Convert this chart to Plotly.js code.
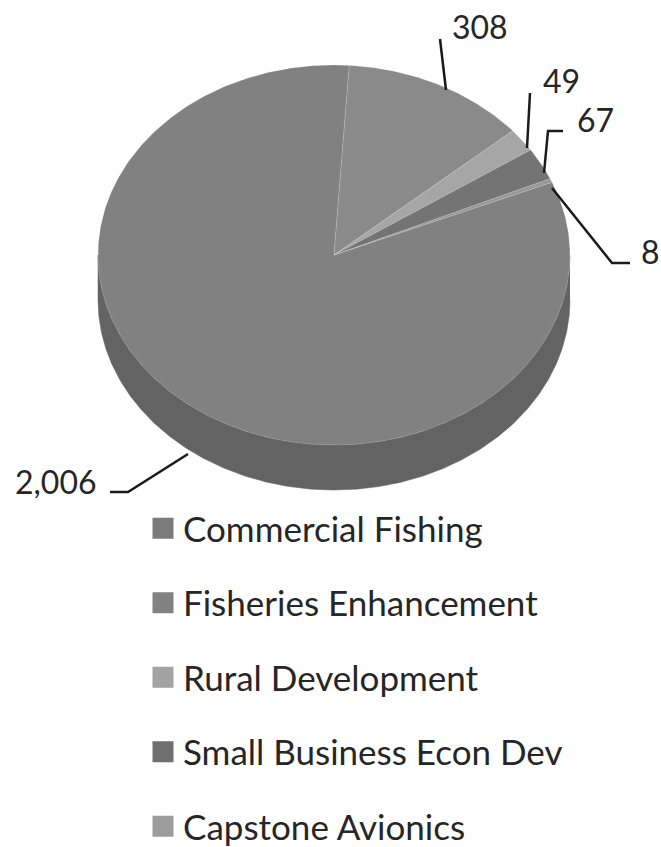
<!DOCTYPE html>
<html>
<head>
<meta charset="utf-8">
<script src="https://cdn.plot.ly/plotly-3.0.1.min.js"></script>
<style>html,body{margin:0;padding:0;background:#fff;}#chart{width:661px;height:847px;}</style>
</head>
<body>
<div id="chart"></div>
<script>
// ---- data ----
const categories = ['Commercial Fishing', 'Fisheries Enhancement', 'Rural Development', 'Small Business Econ Dev', 'Capstone Avionics'];
const values = [2006, 308, 49, 67, 8];
const valueLabels = values.map(v => v.toLocaleString('en-US'));

// ---- style ----
const topColors = ['#818181', '#8a8a8a', '#a6a6a6', '#747474', '#979797'];
const legendColors = ['#7b7b7b', '#828282', '#a3a3a3', '#6f6f6f', '#9c9c9c'];
const sideColor = '#636363';
const W = 661, H = 847;
const cx = 334, cy = 255, rx = 236, ry = 190, depth = 45;
const firstSliceAngle = 67.5; // degrees clockwise from 12 o'clock

function pt(a, dy) {
  const r = a * Math.PI / 180;
  return [cx + rx * Math.sin(r), cy - ry * Math.cos(r) + (dy || 0)];
}
function arc(a0, a1, dy) {
  const n = Math.max(2, Math.ceil(Math.abs(a1 - a0) / 0.5));
  const xs = [], ys = [];
  for (let i = 0; i <= n; i++) {
    const p = pt(a0 + (a1 - a0) * i / n, dy);
    xs.push(p[0]); ys.push(p[1]);
  }
  return [xs, ys];
}

const total = values.reduce((a, b) => a + b, 0);
const slices = [];
let acc = firstSliceAngle;
values.forEach((v, i) => {
  const span = v / total * 360;
  slices.push({a0: acc, a1: acc + span, i});
  acc += span;
});

const traces = [];
// side walls (front half only)
slices.forEach(s => {
  [[90, 270], [450, 630]].forEach(([f0, f1]) => {
    const lo = Math.max(s.a0, f0), hi = Math.min(s.a1, f1);
    if (lo < hi) {
      const top = arc(lo, hi, 0), bot = arc(hi, lo, depth);
      traces.push({
        type: 'scatter', mode: 'lines', fill: 'toself',
        x: top[0].concat(bot[0]), y: top[1].concat(bot[1]),
        fillcolor: sideColor, line: {color: sideColor, width: 0.5},
        showlegend: false, hoverinfo: 'skip'
      });
    }
  });
});
// top faces
slices.forEach(s => {
  const a = arc(s.a0, s.a1, 0);
  traces.push({
    type: 'scatter', mode: 'lines', fill: 'toself',
    x: [cx].concat(a[0], [cx]), y: [cy].concat(a[1], [cy]),
    fillcolor: topColors[s.i], line: {color: 'rgba(255,255,255,0.12)', width: 1},
    name: categories[s.i], showlegend: false, hoverinfo: 'name'
  });
});
// legend entries
categories.forEach((c, i) => {
  traces.push({
    type: 'scatter', mode: 'markers', x: [null], y: [null],
    name: c, legendgroup: 'g' + i, showlegend: true,
    marker: {symbol: 'square', size: 16, color: legendColors[i], line: {color: legendColors[i], width: 5}}
  });
});

// label positions (text centres) and leader-line paths
const labelPos = [[56, 481], [480, 26], [561, 80], [595, 119], [650, 251]];
const leaderPaths = [
  'M 110 492 L 128 492 L 188 454',
  'M 440 39 L 446 90',
  'M 530 93 L 527 148',
  'M 563 131 L 548 131 L 544 173',
  'M 552 188 L 612 263 L 630 263'
];

const labelFont = {family: 'Lato, "Open Sans", sans-serif', size: 32, color: '#262626'};
const annotations = valueLabels.map((t, i) => ({
  x: labelPos[i][0], y: labelPos[i][1], xref: 'x', yref: 'y',
  text: t, showarrow: false, xanchor: 'center', yanchor: 'middle', font: labelFont
}));
const shapes = leaderPaths.map(p => ({
  type: 'path', path: p, xref: 'x', yref: 'y',
  line: {color: '#1a1a1a', width: 2.5}
}));

const layout = {
  width: W, height: H,
  margin: {l: 0, r: 0, t: 0, b: 0, autoexpand: false},
  paper_bgcolor: '#ffffff', plot_bgcolor: '#ffffff',
  xaxis: {range: [0, W], visible: false, fixedrange: true},
  yaxis: {range: [H, 0], visible: false, fixedrange: true},
  showlegend: true,
  legend: {
    x: 143 / W, y: 1 - 499 / H, xanchor: 'left', yanchor: 'top',
    font: {family: 'Lato, "Open Sans", sans-serif', size: 35, color: '#262626'},
    tracegroupgap: 26, bgcolor: 'rgba(0,0,0,0)', itemwidth: 30
  },
  annotations: annotations,
  shapes: shapes
};

Plotly.newPlot('chart', traces, layout, {displayModeBar: false, staticPlot: true});
</script>
</body>
</html>
